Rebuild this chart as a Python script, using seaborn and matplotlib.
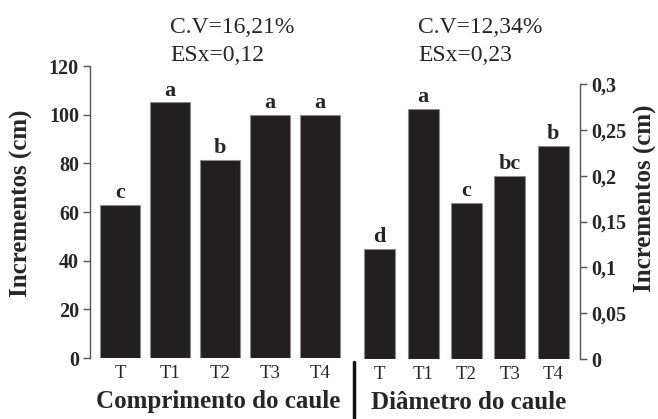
"""
Incrementos de comprimento e diametro do caule por tratamento
"""

import matplotlib

matplotlib.use("Agg")
import matplotlib.pyplot as plt
from matplotlib.lines import Line2D
import seaborn as sns

tratamentos = ["T", "T1", "T2", "T3", "T4"]

# comprimento do caule (cm), eixo da esquerda
comprimento = [63, 105, 81.5, 99.8, 99.8]
letras_comprimento = ["c", "a", "b", "a", "a"]

# diametro do caule (cm), eixo da direita
diametro = [0.12, 0.273, 0.17, 0.20, 0.232]
letras_diametro = ["d", "a", "c", "bc", "b"]

ticks_comprimento = [0, 20, 40, 60, 80, 100, 120]
ticks_diametro = [0, 0.05, 0.1, 0.15, 0.2, 0.25, 0.3]
labels_diametro = ["0", "0,05", "0,1", "0,15", "0,2", "0,25", "0,3"]

BAR_COLOR = "#231f20"
EDGE_COLOR = "#8a8a8a"
SPINE_COLOR = "#555555"

sns.set_style("white")
plt.rcParams["font.family"] = ["Liberation Serif", "DejaVu Serif"]

W, H = 658, 419
fig = plt.figure(figsize=(W / 100, H / 100), dpi=100)


def px_axes(left, top, right, bottom):
    return fig.add_axes(
        [left / W, (H - bottom) / H, (right - left) / W, (bottom - top) / H]
    )


ax1 = px_axes(90, 66, 346, 358)
ax2 = px_axes(358, 84, 580, 359)

sns.barplot(
    x=tratamentos, y=comprimento, ax=ax1, color=BAR_COLOR,
    edgecolor=EDGE_COLOR, linewidth=0.8, width=0.8, saturation=1,
)
sns.barplot(
    x=tratamentos, y=diametro, ax=ax2, color=BAR_COLOR,
    edgecolor=EDGE_COLOR, linewidth=0.8, width=0.715, saturation=1,
)

ax1.set_xlim(-0.6, 4.52)
ax1.set_ylim(0, 120)
ax2.set_xlim(-0.5, 4.62)
ax2.set_ylim(0, 0.3)

# letras de significancia
for ax, vals, letras in [
    (ax1, comprimento, letras_comprimento),
    (ax2, diametro, letras_diametro),
]:
    for i, (v, l) in enumerate(zip(vals, letras)):
        ax.annotate(
            l, (i, v), xytext=(0, 5), textcoords="offset points",
            ha="center", va="baseline", fontsize=16, fontweight="bold",
        )

# eixo da esquerda
for s in ["top", "right", "bottom"]:
    ax1.spines[s].set_visible(False)
ax1.spines["left"].set_color(SPINE_COLOR)
ax1.spines["left"].set_linewidth(1)
ax1.set_yticks(ticks_comprimento)
ax1.set_yticklabels([str(t) for t in ticks_comprimento])
ax1.tick_params(axis="y", left=True, length=5, width=1, color=SPINE_COLOR,
                direction="out", labelsize=14.5, pad=3)
for t in ax1.get_yticklabels():
    t.set_fontweight("bold")

# eixo da direita
for s in ["top", "left", "bottom"]:
    ax2.spines[s].set_visible(False)
ax2.spines["right"].set_color(SPINE_COLOR)
ax2.spines["right"].set_linewidth(1)
ax2.yaxis.tick_right()
ax2.set_yticks(ticks_diametro)
ax2.set_yticklabels(labels_diametro)
ax2.tick_params(axis="y", right=True, left=False, length=5, width=1,
                color=SPINE_COLOR, direction="out", labelsize=14.5, pad=3)
for t in ax2.get_yticklabels():
    t.set_fontweight("bold")

for ax in (ax1, ax2):
    ax.tick_params(axis="x", length=0, labelsize=13.5, pad=5)

ax1.set_xlabel("Comprimento do caule", fontsize=18, fontweight="bold", labelpad=6)
ax2.set_xlabel("Diâmetro do caule", fontsize=18, fontweight="bold", labelpad=6)

ax1.set_ylabel("Incrementos (cm)", fontsize=18, fontweight="bold")
ax1.yaxis.set_label_coords(-0.266, 0.53)
ax1.yaxis.label.set_va("center")

ax2.yaxis.set_label_position("right")
ax2.set_ylabel("Incrementos (cm)", fontsize=18, fontweight="bold", rotation=90)
ax2.yaxis.set_label_coords(1.293, 0.585)
ax2.yaxis.label.set_va("center")

# estatisticas
fig.text(170 / W, (H - 33) / H, "C.V=16,21%", fontsize=17, va="baseline")
fig.text(170 / W, (H - 61) / H, "ESx=0,12", fontsize=17, va="baseline")
fig.text(418 / W, (H - 33) / H, "C.V=12,34%", fontsize=17, va="baseline")
fig.text(418 / W, (H - 61) / H, "ESx=0,23", fontsize=17, va="baseline")

# divisoria entre os grupos
fig.add_artist(Line2D([354 / W, 354 / W], [(H - 362) / H, (H - 418) / H],
                      transform=fig.transFigure, color="#111111", linewidth=2.5))

fig.savefig("out.png", dpi=100)
